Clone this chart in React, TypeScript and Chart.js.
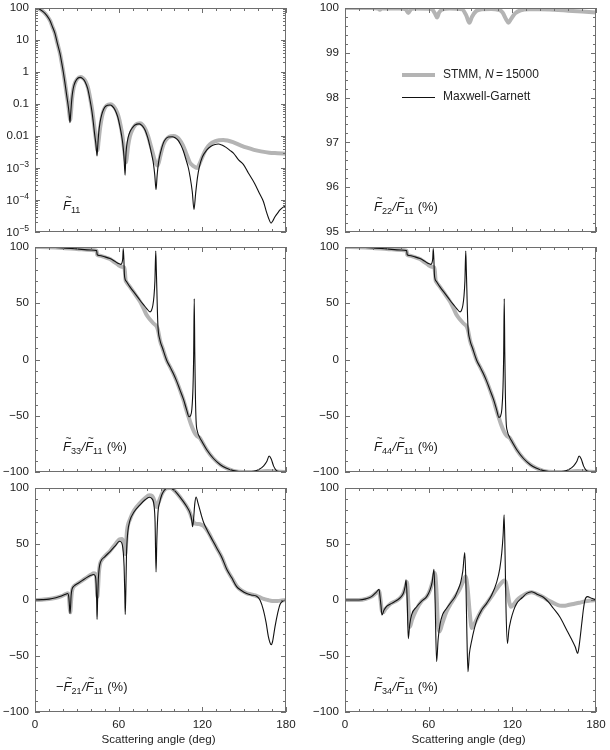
import React, { useEffect, useRef } from 'react';
import { Chart, registerables } from 'chart.js';

Chart.register(...registerables);

type Pt = [number, number];

// ---------- tick labels ----------
const X_TICK_LABELS = [0, 60, 120, 180];
const LIN_TICK_LABELS = [-100, -50, 0, 50, 100];
const F22_TICK_LABELS = [95, 96, 97, 98, 99, 100];
const LOG_TICK_VALUES = [1e-5, 1e-4, 1e-3, 0.01, 0.1, 1, 10, 100];
const LOG_TICK_LABELS: string[][] = [['10', '−5'], ['10', '−4'], ['10', '−3'], ['0.01'], ['0.1'], ['1'], ['10'], ['100']];
const X_TITLE = 'Scattering angle (deg)';
const LEGEND_STMM = 'STMM, ';
const LEGEND_N = 'N';
const LEGEND_N_VALUE = '\u2009=\u200915000';
const LEGEND_MG = 'Maxwell-Garnett';

// ---------- data: [scattering angle (deg), value] ----------
const F11_MG: Pt[] = [
  [0, 100], [3, 93], [6, 76], [8.5, 58], [10.8, 40], [12.5, 26], [14.3, 16], [16, 8], [17.9, 3.8], [19.2, 1.9],
  [20.3, 1.0], [21.5, 0.45], [22.7, 0.19], [23.9, 0.083], [24.6, 0.045], [25.1, 0.026], [25.6, 0.05], [26.3, 0.13],
  [27, 0.24], [28, 0.39], [29.9, 0.59], [32.3, 0.68], [34, 0.63], [35.9, 0.5], [37.8, 0.3], [39.5, 0.13], [40.8, 0.06],
  [41.9, 0.025], [42.8, 0.011], [43.6, 0.006], [44.1, 0.0035], [44.5, 0.0024], [45, 0.005], [45.7, 0.0125], [46.6, 0.026],
  [47.8, 0.046], [49.3, 0.07], [50.9, 0.087], [53.8, 0.093], [55.5, 0.085], [57.4, 0.065], [59.3, 0.04], [61, 0.019],
  [62, 0.011], [62.9, 0.006], [63.8, 0.0023], [64.6, 0.0006], [65.1, 0.0022], [65.7, 0.0047], [66.8, 0.009], [68.1, 0.0135],
  [69.8, 0.018], [71.7, 0.022], [74.8, 0.024], [76.8, 0.021], [78.9, 0.0155], [80.8, 0.009], [82.5, 0.0046], [83.8, 0.0025],
  [84.9, 0.0014], [85.9, 0.0006], [86.8, 0.00021], [87.6, 0.0006], [88.5, 0.0014], [90, 0.003], [92, 0.006], [93.8, 0.0082],
  [95.6, 0.0093], [98.5, 0.0095], [100.5, 0.0088], [102.8, 0.0072], [104.8, 0.005], [106.4, 0.0034], [108.5, 0.0017],
  [110, 0.001], [111.2, 0.00054], [112.8, 0.00018], [114, 0.000051], [115.2, 0.00016], [116.5, 0.0005], [117.9, 0.0011],
  [120, 0.0022], [123.1, 0.0036], [126, 0.0047], [128.5, 0.0053], [131.5, 0.0056], [134, 0.0052], [137, 0.0044],
  [140, 0.0035], [142.3, 0.0029], [146, 0.0018], [149.4, 0.0013], [153, 0.0007], [157.5, 0.00033], [161, 0.00016],
  [163.8, 0.00009], [165.8, 0.000045], [167.4, 0.000028], [169.3, 0.000019], [170.5, 0.000022], [172.1, 0.00003],
  [174, 0.000039], [175.7, 0.000049], [178, 0.00006], [180, 0.000065],
];
const F11_STMM: Pt[] = [
  [0, 100], [3, 93], [6, 76], [8.5, 58], [10.8, 40], [12.5, 26], [14.3, 16], [16, 8], [17.9, 3.8], [19.2, 1.9],
  [20.3, 1.0], [21.5, 0.46], [22.7, 0.2], [23.9, 0.09], [24.6, 0.05], [25.2, 0.032], [25.8, 0.055], [26.5, 0.14],
  [27.3, 0.26], [28.3, 0.41], [30.2, 0.6], [32.6, 0.7], [34.3, 0.65], [36.2, 0.52], [38, 0.32], [39.7, 0.14], [41, 0.065],
  [42.1, 0.028], [43.1, 0.012], [43.9, 0.0065], [44.8, 0.0036], [45.6, 0.0068], [46.4, 0.014], [47.3, 0.027], [48.4, 0.048],
  [49.8, 0.072], [51.4, 0.09], [54.3, 0.098], [56, 0.089], [57.9, 0.068], [59.8, 0.042], [61.4, 0.021], [62.7, 0.01],
  [63.7, 0.0045], [64.6, 0.0022], [65.3, 0.0015], [66, 0.0025], [66.8, 0.005], [68, 0.0095], [69.6, 0.015], [71.5, 0.021],
  [73.5, 0.0245], [75.3, 0.025], [77.3, 0.022], [79.3, 0.016], [81.2, 0.0095], [82.9, 0.0052], [84.3, 0.0031],
  [85.6, 0.0019], [86.8, 0.00135], [87.8, 0.0012], [88.8, 0.0015], [90, 0.0025], [91.5, 0.0045], [93.2, 0.0068],
  [95.3, 0.0088], [97.5, 0.0098], [99.5, 0.01], [101.5, 0.0093], [103.5, 0.0078], [106, 0.0052], [108.5, 0.0028],
  [111, 0.0015], [113, 0.0012], [115, 0.00105], [116.3, 0.001], [117.8, 0.0013], [120, 0.0022], [122.5, 0.0038],
  [125.5, 0.0055], [129, 0.0068], [132, 0.0074], [135, 0.0075], [138, 0.0072], [142, 0.0064], [147, 0.0052],
  [152, 0.0043], [157, 0.0037], [162, 0.0033], [168, 0.003], [174, 0.0029], [180, 0.0028],
];

const F22_MG: Pt[] = [[0, 100], [180, 100]];
const F22_STMM: Pt[] = [
  [0, 100], [20, 100], [23.5, 99.99], [25, 99.96], [26.5, 99.99], [40, 99.99], [43.5, 99.97], [45.4, 99.89],
  [47.5, 99.98], [50, 99.99], [62, 99.98], [64.5, 99.88], [66, 99.79], [67.5, 99.9], [70, 99.97], [75, 99.99],
  [84, 99.97], [87, 99.83], [89.2, 99.67], [91, 99.8], [94, 99.93], [98, 99.97], [105, 99.98], [110, 99.96],
  [113, 99.9], [115.5, 99.75], [117.2, 99.67], [119, 99.75], [122, 99.88], [126, 99.95], [132, 99.97], [140, 99.97],
  [150, 99.96], [160, 99.94], [170, 99.92], [180, 99.9],
];

const F33_MG: Pt[] = [
  [0, 100], [10, 99.8], [20, 99.2], [30, 98.3], [40, 97.3], [44.2, 96.8], [44.6, 93.2], [46, 92.5], [50, 91.3],
  [53.8, 89.7], [57, 87.5], [59.8, 85.3], [61.5, 84.6], [62.4, 86], [62.9, 89.5], [63.3, 98.6], [63.7, 90], [64.1, 76],
  [64.7, 71], [65.5, 69.5], [68.1, 64.5], [71.5, 59], [75.3, 52.7], [78, 48.5], [80.1, 45.3], [82.5, 42.3], [83.5, 43.5],
  [84.5, 48], [85.3, 56], [86, 70], [86.6, 96.5], [87, 80], [87.4, 61.6], [87.8, 42], [88.2, 29], [89.6, 17.2],
  [91.5, 10], [94.4, -0.6], [97, -7], [99.2, -12.4], [101.5, -19], [104, -27.2], [106.5, -35.5], [108.8, -45],
  [110.4, -50.9], [111.5, -50], [112.5, -44], [113.3, -25], [113.8, 5], [114.2, 54], [114.6, 5], [115, -30],
  [115.5, -54], [116.5, -64], [118, -69], [120, -73.5], [123.3, -80.5], [128, -88], [132.9, -93.5], [137, -96.5],
  [142.4, -98.8], [149.6, -100], [156.8, -99.3], [160.5, -97.8], [164, -94.5], [166.3, -90.5], [167.9, -85.8],
  [169.4, -88.5], [171.2, -95], [173, -98.5], [175, -99.7], [180, -100],
];
const F33_STMM: Pt[] = [
  [0, 100], [10, 99.8], [20, 99.2], [30, 98.3], [40, 97.3], [44.2, 96.8], [44.6, 93.2], [46, 92.5], [50, 91],
  [53.8, 89.3], [57, 86.5], [59.8, 84], [62, 82.5], [64, 81.8], [64.5, 78], [64.9, 71], [65.5, 69], [68.1, 64.5],
  [71.5, 58.5], [75.3, 51.5], [78, 45], [80.1, 39.5], [82.5, 35.5], [85, 32], [87.4, 29], [88.2, 26], [89.6, 17.2],
  [91.5, 10], [94.4, -0.6], [97, -7], [99.2, -12.4], [101.5, -19], [104, -27.2], [106.5, -36], [108.8, -46],
  [110.4, -52], [112, -58], [114, -64], [116, -68], [118, -69.5], [120, -73.5], [123.3, -80.5], [128, -88],
  [132.9, -93.5], [137, -96.5], [142.4, -99], [149.6, -100], [156.8, -100], [162, -99.6], [167, -99], [172, -99.4],
  [176, -99.8], [180, -100],
];

const F44_MG: Pt[] = [
  [0, 100], [10, 99.8], [20, 99.2], [30, 98.3], [40, 97.3], [44.2, 96.8], [44.6, 93.2], [46, 92.5], [50, 91.3],
  [53.8, 89.7], [57, 87.5], [59.8, 85.3], [61.5, 84.6], [62.4, 86], [62.9, 89.5], [63.3, 98.6], [63.7, 90], [64.1, 76],
  [64.7, 71], [65.5, 69.5], [68.1, 64.5], [71.5, 59], [75.3, 52.7], [78, 48.5], [80.1, 45.3], [82.5, 42.3], [83.5, 43.5],
  [84.5, 48], [85.3, 56], [86, 70], [86.6, 96.5], [87, 80], [87.4, 61.6], [87.8, 42], [88.2, 29], [89.6, 17.2],
  [91.5, 10], [94.4, -0.6], [97, -7], [99.2, -12.4], [101.5, -19], [104, -27.2], [106.5, -35.5], [108.8, -45],
  [110.4, -51.5], [111.5, -50.5], [112.5, -44], [113.3, -25], [113.8, 5], [114.2, 54], [114.6, 5], [115, -30],
  [115.5, -54], [116.5, -64], [118, -69], [120, -73.5], [123.3, -80.5], [128, -88], [132.9, -93.5], [137, -96.5],
  [142.4, -98.8], [149.6, -100], [156.8, -99.3], [160.5, -97.8], [164, -94.5], [166.3, -90.5], [167.9, -85.8],
  [169.4, -88.5], [171.2, -95], [173, -98.5], [175, -99.7], [180, -100],
];
const F44_STMM: Pt[] = [
  [0, 100], [10, 99.8], [20, 99.2], [30, 98.3], [40, 97.3], [44.2, 96.8], [44.6, 93.2], [46, 92.5], [50, 91],
  [53.8, 89.3], [57, 86.5], [59.8, 84], [62, 82.5], [64, 81.8], [64.5, 78], [64.9, 71], [65.5, 69], [68.1, 64.5],
  [71.5, 58.5], [75.3, 51.5], [78, 45], [80.1, 39.5], [82.5, 35.5], [85, 32], [87.4, 29], [88.2, 26], [89.6, 17.2],
  [91.5, 10], [94.4, -0.6], [97, -7], [99.2, -12.4], [101.5, -19], [104, -27.2], [106.5, -36], [108.8, -46],
  [110.4, -52], [112, -58], [114, -64], [116, -68], [118, -69.5], [120, -73.5], [123.3, -80.5], [128, -88],
  [132.9, -93.5], [137, -96.5], [142.4, -99], [149.6, -100], [156.8, -100], [162, -99.6], [167, -99], [172, -99.4],
  [176, -99.8], [180, -100],
];

const F21_MG: Pt[] = [
  [0, 0], [5, 0.3], [10, 0.8], [15, 2], [19, 3.5], [22, 5.2], [23.4, 5.8], [24.2, 3], [24.7, -5], [25.1, -12],
  [25.5, -6], [25.9, 4], [26.5, 9.5], [28, 12.5], [31, 15], [34, 17.5], [37, 20], [40, 22], [42, 22.8], [43.2, 21.5],
  [43.8, 15], [44.2, 0], [44.5, -17.4], [44.9, 0], [45.4, 18], [46, 28], [47, 34], [50, 38.5], [54, 43.5], [58, 49],
  [60.5, 52.5], [62.2, 51], [63.2, 44], [63.9, 30], [64.4, 5], [64.7, -13], [65.1, 5], [65.6, 40], [66.5, 60],
  [68.1, 71], [71, 78.5], [75.3, 85], [79, 89.5], [82, 91.8], [83.8, 90.5], [85.3, 85], [86.1, 70], [86.8, 25],
  [87.4, 55], [88.2, 78], [89.5, 87.5], [90.8, 93.5], [92.5, 97.5], [94.4, 99.8], [97, 100], [99.2, 98.5], [102, 95],
  [106.3, 88], [109, 83], [111.1, 78], [112.3, 72], [113, 65.4], [113.7, 72], [114.6, 86], [115.5, 92], [117, 86],
  [119, 77], [121, 69], [124, 61], [127.5, 53], [130.5, 46], [134, 38], [137.5, 27.5], [141, 20], [144.6, 12],
  [148, 8.5], [151.8, 5.8], [155, 4.5], [159, 3.4], [161.5, -0.5], [163.8, -9], [165.7, -20], [167.4, -33],
  [168.5, -38], [169.3, -40], [170.3, -37.5], [172.1, -24], [174, -12], [175.7, -4], [178, -0.8], [180, 0],
];
const F21_STMM: Pt[] = [
  [0, 0], [5, 0.3], [10, 0.8], [15, 2], [19, 3.5], [22, 5.2], [23.6, 6], [24.4, 2], [24.9, -7], [25.3, -11],
  [25.8, -2], [26.4, 7], [27.2, 11], [28.5, 13], [31, 15], [34, 17.5], [37, 20], [40, 22.5], [42.3, 23.8], [43.5, 23],
  [44.2, 15], [44.7, 3], [45.2, 10], [45.8, 24], [46.6, 32], [48, 36], [50, 39], [54, 44], [58, 50.5], [60.5, 54],
  [62.3, 54.5], [63.5, 51], [64.2, 45], [64.7, 41], [65.2, 48], [66, 62], [68.1, 72], [71, 80], [75.3, 86.5], [79, 91],
  [82, 93.5], [84, 93], [85.5, 89], [86.6, 84], [87.4, 83], [88.3, 86], [89.8, 91], [91.5, 96], [93, 98.5],
  [94.4, 99.8], [97, 100], [99.2, 98.5], [102, 95], [106.3, 88], [109, 83], [111.1, 78], [112.8, 72], [114, 69],
  [115.5, 68], [117.5, 67.8], [119.5, 67], [121, 66], [124, 61], [127.5, 53], [130.5, 46], [134, 38], [137.5, 27.5],
  [141, 20], [144.6, 12.5], [148, 8.5], [151.8, 6], [155, 5], [158, 4], [161, 2.5], [164, 1], [167, 0], [170, -0.8],
  [174, -0.8], [177, -0.4], [180, 0],
];

const F34_MG: Pt[] = [
  [0, 0], [10, 0], [15, 1], [19, 3], [22.5, 7], [24.4, 9.5], [25.2, 2], [25.8, -5], [26.5, -13.4], [28, -9],
  [30, -5.5], [33.5, -3], [37, -0.5], [40, 2.5], [42, 6.5], [43.1, 12], [43.8, 18], [44.6, 0], [45.4, -34.5],
  [46.4, -22], [47.8, -13], [51.4, -6], [55, -1], [58.6, 3], [61, 9], [62.5, 16], [63.8, 27.4], [64.6, 0],
  [65.7, -55], [66.8, -35], [68.1, -22], [70, -13], [72.9, -7.4], [76, -2], [78.9, 3], [81, 9], [83, 16], [84.5, 26],
  [85.9, 42.3], [86.8, 10], [87.4, -30], [88.2, -64], [89.2, -48], [90.9, -36], [92.5, -27], [94.5, -18], [98, -9],
  [101.6, -3], [105, 4], [108.8, 16], [111, 28], [112.4, 42], [113.4, 58], [114.1, 76], [114.8, 40], [115.5, -10],
  [116.5, -38.7], [117.5, -27], [118.9, -18], [121, -9], [123.2, -3], [127, 2], [130.3, 5.9], [133.9, 7.4], [138, 5],
  [142.3, 2.4], [146, -2], [149.4, -7.4], [154, -15], [159, -26.8], [162, -34], [165, -41.6], [166.9, -47.6],
  [168, -40], [169.8, -20.8], [171, -8], [172.1, 0], [173.8, 3], [176.9, 1.5], [180, 0],
];
const F34_STMM: Pt[] = [
  [0, 0], [10, 0], [15, 1], [19, 3], [22.5, 6.5], [24.4, 8], [25.5, 0], [26.5, -10], [27.5, -11], [29, -8], [33, -3],
  [37, -0.5], [40, 2.5], [42, 6.5], [43.5, 12], [44.5, 16], [45.5, -5], [46.5, -24], [48, -18], [51, -9], [55, -1],
  [58.6, 3], [61, 9], [63, 17], [64.5, 24], [65.5, 10], [66.5, -18], [67.8, -28], [69.5, -22], [72.9, -10], [76, -3],
  [79, 3], [82, 9], [84.5, 16], [86.5, 21], [87.8, 12], [89.5, -12], [90.9, -25], [92.5, -22], [95, -16], [98, -9],
  [101.6, -3], [105, 3], [108.8, 10], [112, 15], [114, 17.5], [115.3, 16], [116.5, 8], [117.8, -2], [119, -6],
  [121, -4], [123.5, 0], [127, 3.5], [130.3, 5.9], [133.9, 7], [138, 5], [142.3, 2.4], [146, -0.5], [150, -3],
  [154, -5], [157, -5.2], [160, -4.5], [164, -3.5], [168, -2.5], [172, -1.2], [176, -0.4], [180, 0],
];

// ---------- styling / layout ----------
const FONT = '"Liberation Sans", Arial, sans-serif';
const FRAME = '#6e6e6e';
const TEXT = '#222222';
const MG_COLOR = '#111111';
const STMM_COLOR = '#b4b4b4';

type Part = { t: string; it?: boolean; sub?: boolean; tilde?: boolean };
const Ft = (s: string): Part[] => [{ t: 'F', it: true, tilde: true }, { t: s, sub: true }];

interface PanelCfg {
  key: string;
  area: { left: number; top: number; right: number; bottom: number };
  log?: boolean;
  yMin: number; yMax: number; yMinor?: number; yMajor?: number;
  yLabels: number[];
  xLabels: boolean;
  mg: Pt[]; stmm: Pt[];
  label: Part[]; labelPos: [number, number];
  legend?: boolean;
}

const COL_L = { left: 35, right: 286 };
const COL_R = { left: 345, right: 596 };
const ROW1 = { top: 8, bottom: 232 };
const ROW2 = { top: 247, bottom: 472 };
const ROW3 = { top: 488, bottom: 712 };

const PANELS: PanelCfg[] = [
  { key: 'f11', area: { ...COL_L, ...ROW1 }, log: true, yMin: 1e-5, yMax: 100, yLabels: LOG_TICK_VALUES, xLabels: false,
    mg: F11_MG, stmm: F11_STMM, label: Ft('11'), labelPos: [63, 210] },
  { key: 'f22', area: { ...COL_R, ...ROW1 }, yMin: 95, yMax: 100, yMinor: 0.2, yMajor: 1, yLabels: F22_TICK_LABELS, xLabels: false,
    mg: F22_MG, stmm: F22_STMM, label: [...Ft('22'), { t: '/', it: true }, ...Ft('11'), { t: ' (%)' }], labelPos: [374, 211], legend: true },
  { key: 'f33', area: { ...COL_L, ...ROW2 }, yMin: -100, yMax: 100, yMinor: 10, yMajor: 50, yLabels: LIN_TICK_LABELS, xLabels: false,
    mg: F33_MG, stmm: F33_STMM, label: [...Ft('33'), { t: '/', it: true }, ...Ft('11'), { t: ' (%)' }], labelPos: [63, 451] },
  { key: 'f44', area: { ...COL_R, ...ROW2 }, yMin: -100, yMax: 100, yMinor: 10, yMajor: 50, yLabels: LIN_TICK_LABELS, xLabels: false,
    mg: F44_MG, stmm: F44_STMM, label: [...Ft('44'), { t: '/', it: true }, ...Ft('11'), { t: ' (%)' }], labelPos: [374, 451] },
  { key: 'f21', area: { ...COL_L, ...ROW3 }, yMin: -100, yMax: 100, yMinor: 10, yMajor: 50, yLabels: LIN_TICK_LABELS, xLabels: true,
    mg: F21_MG, stmm: F21_STMM, label: [{ t: '−' }, ...Ft('21'), { t: '/', it: true }, ...Ft('11'), { t: ' (%)' }], labelPos: [56, 691] },
  { key: 'f34', area: { ...COL_R, ...ROW3 }, yMin: -100, yMax: 100, yMinor: 10, yMajor: 50, yLabels: LIN_TICK_LABELS, xLabels: true,
    mg: F34_MG, stmm: F34_STMM, label: [...Ft('34'), { t: '/', it: true }, ...Ft('11'), { t: ' (%)' }], labelPos: [374, 691] },
];

const TICK_FONT = 11.6;

function fmtNum(v: number): string {
  return v < 0 ? '−' + String(-v) : String(v);
}

function drawRich(ctx: CanvasRenderingContext2D, x: number, y: number, parts: Part[], size: number) {
  let cx = x;
  ctx.textBaseline = 'alphabetic';
  for (const p of parts) {
    const fs = p.sub ? size * 0.7 : size;
    ctx.font = `${p.it ? 'italic ' : ''}${fs}px ${FONT}`;
    ctx.textAlign = 'left';
    const dy = p.sub ? size * 0.25 : 0;
    ctx.fillText(p.t, cx, y + dy);
    const w = ctx.measureText(p.t).width;
    if (p.tilde) {
      ctx.font = `${size * 0.78}px ${FONT}`;
      ctx.textAlign = 'center';
      ctx.fillText('~', cx + w / 2 + 1.6, y - size * 0.7);
    }
    cx += w + (p.sub ? 0.5 : 0);
  }
}

function makeDecor(cfg: PanelCfg) {
  return {
    id: 'decor_' + cfg.key,
    afterDatasetsDraw(chart: any) {
      const ctx: CanvasRenderingContext2D = chart.ctx;
      const ca = chart.chartArea;
      const xs = chart.scales.x;
      const ys = chart.scales.y;
      ctx.save();
      ctx.strokeStyle = FRAME;
      ctx.lineWidth = 1;
      ctx.beginPath();
      // x ticks (inward, top & bottom)
      for (let v = 0; v <= 180; v += 10) {
        const p = Math.round(xs.getPixelForValue(v)) + 0.5;
        const len = v % 60 === 0 ? 5 : 3;
        ctx.moveTo(p, ca.bottom); ctx.lineTo(p, ca.bottom - len);
        ctx.moveTo(p, ca.top); ctx.lineTo(p, ca.top + len);
      }
      const yTick = (v: number, major: boolean) => {
        const p = Math.round(ys.getPixelForValue(v)) + 0.5;
        const len = major ? 5 : 3;
        ctx.moveTo(ca.left, p); ctx.lineTo(ca.left + len, p);
        ctx.moveTo(ca.right, p); ctx.lineTo(ca.right - len, p);
      };
      if (cfg.log) {
        for (let e = -5; e <= 2; e++) {
          const base = Math.pow(10, e);
          yTick(base, true);
          if (e < 2) for (let k = 2; k <= 9; k++) yTick(k * base, false);
        }
      } else {
        const n = Math.round((cfg.yMax - cfg.yMin) / cfg.yMinor!);
        for (let i = 0; i <= n; i++) {
          const v = cfg.yMin + i * cfg.yMinor!;
          const r = v / cfg.yMajor!;
          yTick(v, Math.abs(r - Math.round(r)) < 1e-6);
        }
      }
      ctx.stroke();
      ctx.strokeRect(ca.left + 0.5, ca.top + 0.5, ca.right - ca.left - 1, ca.bottom - ca.top - 1);

      // y tick labels
      ctx.fillStyle = TEXT;
      ctx.textBaseline = 'middle';
      const lx = ca.left - 6;
      if (cfg.log) {
        LOG_TICK_VALUES.forEach((v, i) => {
          const lab = LOG_TICK_LABELS[i];
          const py = ys.getPixelForValue(v);
          if (lab.length === 1) {
            ctx.font = `${TICK_FONT}px ${FONT}`;
            ctx.textAlign = 'right';
            ctx.fillText(lab[0], lx, py);
          } else {
            ctx.font = `${TICK_FONT}px ${FONT}`;
            const w0 = ctx.measureText(lab[0]).width;
            ctx.font = `8.6px ${FONT}`;
            const w1 = ctx.measureText(lab[1]).width;
            ctx.textAlign = 'left';
            ctx.font = `${TICK_FONT}px ${FONT}`;
            ctx.fillText(lab[0], lx - w0 - w1, py + 1);
            ctx.font = `8.6px ${FONT}`;
            ctx.fillText(lab[1], lx - w1, py - 3.5);
          }
        });
      } else {
        ctx.font = `${TICK_FONT}px ${FONT}`;
        ctx.textAlign = 'right';
        cfg.yLabels.forEach((v) => ctx.fillText(fmtNum(v), lx, ys.getPixelForValue(v)));
      }
      // x tick labels and title
      if (cfg.xLabels) {
        ctx.font = `${TICK_FONT}px ${FONT}`;
        ctx.textAlign = 'center';
        ctx.textBaseline = 'middle';
        X_TICK_LABELS.forEach((v) => ctx.fillText(String(v), xs.getPixelForValue(v), ca.bottom + 13));
        ctx.textBaseline = 'alphabetic';
        ctx.fillText(X_TITLE, (ca.left + ca.right) / 2 - 2, ca.bottom + 31);
      }
      // panel label
      ctx.fillStyle = '#1a1a1a';
      drawRich(ctx, cfg.labelPos[0], cfg.labelPos[1], cfg.label, 13);

      // legend
      if (cfg.legend) {
        const x0 = ca.left + 57, x1 = ca.left + 90, tx = ca.left + 98;
        const y0 = ca.top + 67, y1 = ca.top + 89;
        ctx.lineCap = 'butt';
        ctx.strokeStyle = STMM_COLOR; ctx.lineWidth = 4;
        ctx.beginPath(); ctx.moveTo(x0, y0); ctx.lineTo(x1, y0); ctx.stroke();
        ctx.strokeStyle = MG_COLOR; ctx.lineWidth = 1;
        ctx.beginPath(); ctx.moveTo(x0, y1 + 0.5); ctx.lineTo(x1, y1 + 0.5); ctx.stroke();
        ctx.fillStyle = TEXT;
        ctx.textBaseline = 'middle';
        ctx.textAlign = 'left';
        ctx.font = `12px ${FONT}`;
        ctx.fillText(LEGEND_STMM, tx, y0);
        let cx = tx + ctx.measureText(LEGEND_STMM).width;
        ctx.font = `italic 12px ${FONT}`;
        ctx.fillText(LEGEND_N, cx, y0);
        cx += ctx.measureText(LEGEND_N).width;
        ctx.font = `12px ${FONT}`;
        ctx.fillText(LEGEND_N_VALUE, cx, y0);
        ctx.fillText(LEGEND_MG, tx, y1);
      }
      ctx.restore();
    },
  };
}

function Panel({ cfg }: { cfg: PanelCfg }) {
  const ref = useRef<HTMLCanvasElement>(null);
  useEffect(() => {
    const canvas = ref.current!;
    const W = 610, H = 750;
    const chart = new Chart(canvas, {
      type: 'line',
      data: {
        datasets: [
          {
            label: 'Maxwell-Garnett',
            data: cfg.mg.map(([x, y]) => ({ x, y })),
            borderColor: MG_COLOR, borderWidth: 1.1, pointRadius: 0,
            cubicInterpolationMode: 'monotone', fill: false,
          },
          {
            label: 'STMM, N=15000',
            data: cfg.stmm.map(([x, y]) => ({ x, y })),
            borderColor: STMM_COLOR, borderWidth: 4, pointRadius: 0,
            cubicInterpolationMode: 'monotone', fill: false,
          },
        ],
      },
      options: {
        responsive: false,
        animation: false,
        events: [],
        devicePixelRatio: 1,
        layout: {
          padding: {
            left: cfg.area.left, top: cfg.area.top,
            right: W - cfg.area.right, bottom: H - cfg.area.bottom,
          },
        },
        scales: {
          x: { type: 'linear', min: 0, max: 180, display: false },
          y: { type: cfg.log ? 'logarithmic' : 'linear', min: cfg.yMin, max: cfg.yMax, display: false },
        },
        plugins: { legend: { display: false }, tooltip: { enabled: false } },
      } as any,
      plugins: [makeDecor(cfg)],
    } as any);
    return () => chart.destroy();
  }, [cfg]);
  return (
    <canvas
      ref={ref}
      width={610}
      height={750}
      style={{ position: 'absolute', left: 0, top: 0, width: 610, height: 750 }}
    />
  );
}

export default function App() {
  return (
    <div style={{ position: 'absolute', left: 0, top: 0, width: 610, height: 750, background: '#ffffff' }}>
      {PANELS.map((p) => (
        <Panel key={p.key} cfg={p} />
      ))}
    </div>
  );
}
